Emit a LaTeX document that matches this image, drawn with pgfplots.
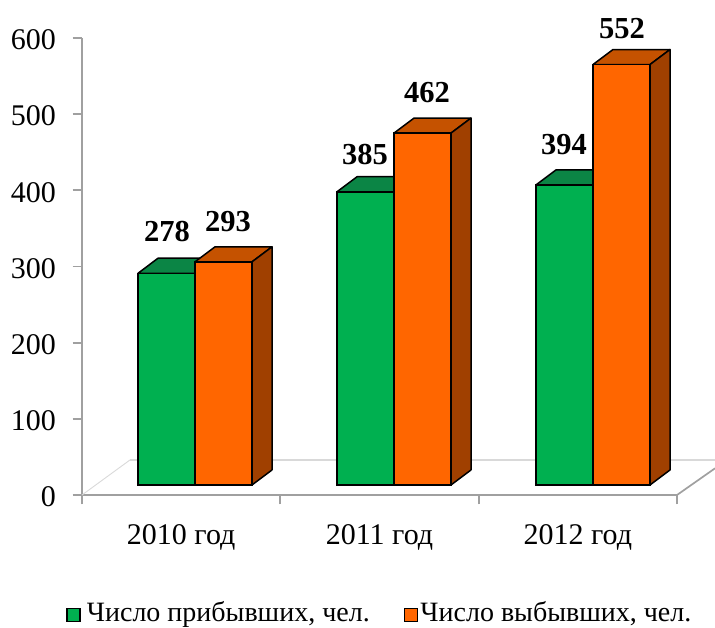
\documentclass[border=0pt]{standalone}
\usepackage{fontspec}
\setmainfont{Liberation Serif}
\usepackage{pgfplots}
\pgfplotsset{compat=1.18}
\definecolor{gfront}{HTML}{00B050}
\definecolor{gtop}{HTML}{0B8545}
\definecolor{ofront}{HTML}{FF6600}
\definecolor{otop}{HTML}{C55200}
\definecolor{oside}{HTML}{A04000}
\definecolor{axgray}{HTML}{A0A0A0}
\definecolor{flgray}{HTML}{D9D9D9}
\begin{document}
\begin{tikzpicture}[x=1pt,y=1pt]
\useasboundingbox (0,0) rectangle (715,628);
\begin{axis}[
  at={(82pt,133pt)}, anchor=south west,
  scale only axis, width=595pt, height=457pt,
  xmin=0, xmax=595, ymin=0, ymax=600, clip=false,
  axis lines=left, axis line style={-,draw=axgray,line width=2pt},
  tick align=outside, major tick length=9.5pt,
  tick style={draw=axgray,line width=1.8pt},
  ytick={0,100,...,600},
  xtick={0,198.3,396.7,595},
  x tick label as interval,
  xticklabels={2010 год,2011 год,2012 год},
  /pgf/number format/assume math mode=true,
  tick label style={font=\fontsize{30}{32}\selectfont},
  yticklabel style={xshift=-13pt,yshift=-2pt},
  xticklabel style={yshift=-17pt},
  legend columns=2,
  legend style={draw=none,fill=none,font=\fontsize{28}{30}\selectfont,
    at={(axis cs:-16,-154)},anchor=west,inner sep=0pt,
    /tikz/every even column/.style={column sep=32pt}},
]
% floor
\addplot[forget plot,draw=flgray,line width=0.9pt] coordinates {(0,0)(48,46)};
\addplot[forget plot,draw=flgray,line width=2pt] coordinates {(48,46)(633,46)};
\addplot[forget plot,draw=axgray,line width=1.7pt] coordinates {(595,0)(633,35)};
% 2010
\addplot[forget plot,yshift=10pt,fill=gtop,draw=black,line width=1.5pt,line join=round] coordinates {(56,278)(76,297.7)(133,297.7)(113,278)} --cycle;
\addplot[forget plot,ybar,bar width=57pt,bar shift=0pt,yshift=10pt,fill=gfront,draw=black,line width=1.5pt] coordinates {(84.5,278)};
\addplot[forget plot,yshift=10pt,fill=otop,draw=black,line width=1.5pt,line join=round] coordinates {(113,293)(133,312.7)(190,312.7)(170,293)} --cycle;
\addplot[forget plot,yshift=10pt,fill=oside,draw=black,line width=1.5pt,line join=round] coordinates {(170,0)(190,19.7)(190,312.7)(170,293)} --cycle;
\addplot[forget plot,ybar,bar width=57pt,bar shift=0pt,yshift=10pt,fill=ofront,draw=black,line width=1.5pt] coordinates {(141.5,293)};
% 2011
\addplot[forget plot,yshift=10pt,fill=gtop,draw=black,line width=1.5pt,line join=round] coordinates {(255,385)(275,404.7)(332,404.7)(312,385)} --cycle;
\addplot[forget plot,ybar,bar width=57pt,bar shift=0pt,yshift=10pt,fill=gfront,draw=black,line width=1.5pt] coordinates {(283.5,385)};
\addplot[forget plot,yshift=10pt,fill=otop,draw=black,line width=1.5pt,line join=round] coordinates {(312,462)(332,481.7)(389,481.7)(369,462)} --cycle;
\addplot[forget plot,yshift=10pt,fill=oside,draw=black,line width=1.5pt,line join=round] coordinates {(369,0)(389,19.7)(389,481.7)(369,462)} --cycle;
\addplot[forget plot,ybar,bar width=57pt,bar shift=0pt,yshift=10pt,fill=ofront,draw=black,line width=1.5pt] coordinates {(340.5,462)};
% 2012
\addplot[forget plot,yshift=10pt,fill=gtop,draw=black,line width=1.5pt,line join=round] coordinates {(454,394)(474,413.7)(531,413.7)(511,394)} --cycle;
\addplot[forget plot,ybar,bar width=57pt,bar shift=0pt,yshift=10pt,fill=gfront,draw=black,line width=1.5pt] coordinates {(482.5,394)};
\addplot[forget plot,yshift=10pt,fill=otop,draw=black,line width=1.5pt,line join=round] coordinates {(511,552)(531,571.7)(588,571.7)(568,552)} --cycle;
\addplot[forget plot,yshift=10pt,fill=oside,draw=black,line width=1.5pt,line join=round] coordinates {(568,0)(588,19.7)(588,571.7)(568,552)} --cycle;
\addplot[forget plot,ybar,bar width=57pt,bar shift=0pt,yshift=10pt,fill=ofront,draw=black,line width=1.5pt] coordinates {(539.5,552)};
% value labels
\pgfplotsset{vlabel/.style={forget plot,draw=none,mark=none,
  nodes near coords={\textbf{\pgfmathprintnumber[assume math mode=true]{\pgfplotspointmeta}}},
  every node near coord/.style={font=\fontsize{30.5}{32}\selectfont,anchor=center,yshift=#1}}}
\addplot[vlabel=52pt] coordinates {(85,278)};
\addplot[vlabel=50pt] coordinates {(146,293)};
\addplot[vlabel=47pt] coordinates {(283,385)};
\addplot[vlabel=51pt] coordinates {(345,462)};
\addplot[vlabel=50pt] coordinates {(482,394)};
\addplot[vlabel=46.5pt] coordinates {(540,552)};
% legend
\addlegendimage{legend image code/.code={\fill[gfront,draw=black,line width=1.4pt] (0pt,-9pt) rectangle (13pt,4pt);\path[draw=none,fill=none] (0pt,0pt)--(18pt,0pt);}}
\addlegendentry{Число прибывших, чел.}
\addlegendimage{legend image code/.code={\fill[ofront,draw=black,line width=1.4pt] (0pt,-9pt) rectangle (13pt,4pt);\path[draw=none,fill=none] (0pt,0pt)--(14pt,0pt);}}
\addlegendentry{Число выбывших, чел.}
\end{axis}
\end{tikzpicture}
\end{document}
